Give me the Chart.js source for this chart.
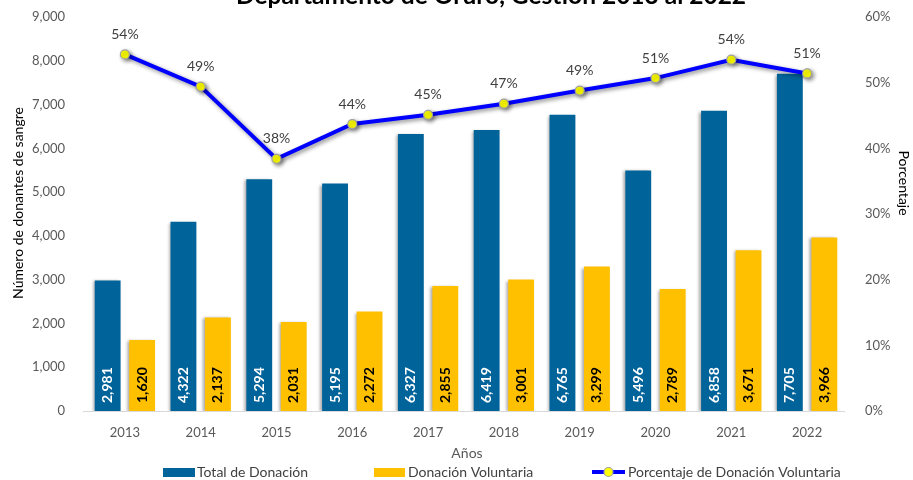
<!DOCTYPE html>
<html>
<head>
<meta charset="utf-8">
<script src="https://cdn.jsdelivr.net/npm/chart.js@4.4.1/dist/chart.umd.min.js"></script>
<style>
  html, body { margin: 0; padding: 0; background: #fff; }
  #wrap { width: 913px; height: 480px; }
</style>
</head>
<body>
<div id="wrap"><canvas id="donChart"></canvas></div>
<script>
let years = ['2013', '2014', '2015', '2016', '2017', '2018', '2019', '2020', '2021', '2022'];
let totalDonacion = [2981, 4322, 5294, 5195, 6327, 6419, 6765, 5496, 6858, 7705];
let donacionVoluntaria = [1620, 2137, 2031, 2272, 2855, 3001, 3299, 2789, 3671, 3966];
let porcentajeVoluntaria = [54.3, 49.4, 38.4, 43.7, 45.1, 46.8, 48.8, 50.7, 53.5, 51.4]; // %
let seriesNames = ['Total de Donación', 'Donación Voluntaria', 'Porcentaje de Donación Voluntaria'];
let titleText = 'Departamento de Oruro, Gestión 2013 al 2022';
let axisTitles = { y: 'Número de donantes de sangre', y1: 'Porcentaje', x: 'Años' };

const FONT = 'Lato';
const BLUE = '#00639a';
const YELLOW = '#ffc000';
const LINE = '#0000ff';
const TICK = '#595959';

// drop shadow under bars and line (excel style)
const shadowPlugin = {
  id: 'shadow',
  beforeDatasetDraw(chart, args) {
    const ctx = chart.ctx;
    ctx.save();
    if (args.meta.type === 'line') {
      ctx.shadowColor = 'rgba(0,0,0,0.45)';
      ctx.shadowBlur = 4;
      ctx.shadowOffsetX = 2;
      ctx.shadowOffsetY = 2;
    } else {
      ctx.shadowColor = 'rgba(0,0,0,0.35)';
      ctx.shadowBlur = 3;
      ctx.shadowOffsetX = -2;
      ctx.shadowOffsetY = 1;
    }
  },
  afterDatasetDraw(chart) {
    chart.ctx.restore();
  }
};

// value labels: rotated inside bars, percent above the line points
const labelPlugin = {
  id: 'labels',
  afterDatasetsDraw(chart) {
    const ctx = chart.ctx;
    chart.data.datasets.forEach((ds, di) => {
      const meta = chart.getDatasetMeta(di);
      meta.data.forEach((el, i) => {
        const v = ds.data[i];
        ctx.save();
        if (meta.type === 'bar') {
          ctx.translate(el.x, el.base - 8);
          ctx.rotate(-Math.PI / 2);
          ctx.font = 'bold 14px ' + FONT;
          ctx.fillStyle = di === 0 ? '#ffffff' : '#000000';
          ctx.textAlign = 'left';
          ctx.textBaseline = 'middle';
          ctx.fillText(v.toLocaleString('en-US'), 0, 0);
        } else {
          ctx.font = '14px ' + FONT;
          ctx.fillStyle = '#404040';
          ctx.textAlign = 'center';
          ctx.textBaseline = 'middle';
          ctx.fillText(Math.round(v) + '%', el.x, el.y - 20);
        }
        ctx.restore();
      });
    });
  }
};

// title (cut at the top edge), axis titles, baseline and legend like the original
const decoPlugin = {
  id: 'deco',
  beforeDatasetsDraw(chart) {
    const ctx = chart.ctx;
    const a = chart.chartArea;
    ctx.save();
    ctx.strokeStyle = '#d9d9d9';
    ctx.lineWidth = 1;
    ctx.beginPath();
    ctx.moveTo(a.left - 4, Math.round(a.bottom) + 0.5);
    ctx.lineTo(a.right, Math.round(a.bottom) + 0.5);
    ctx.stroke();
    ctx.restore();
  },
  afterDraw(chart) {
    const ctx = chart.ctx;
    ctx.save();
    ctx.font = 'bold 24.5px ' + FONT;
    ctx.fillStyle = '#000';
    ctx.textAlign = 'center';
    ctx.textBaseline = 'alphabetic';
    ctx.fillText(titleText, 491, 4);

    // axis titles
    ctx.font = '14px ' + FONT;
    ctx.textAlign = 'center';
    ctx.textBaseline = 'middle';
    ctx.save();
    ctx.translate(18, 203);
    ctx.rotate(-Math.PI / 2);
    ctx.fillText(axisTitles.y, 0, 0);
    ctx.restore();
    ctx.save();
    ctx.translate(904, 183);
    ctx.rotate(Math.PI / 2);
    ctx.fillText(axisTitles.y1, 0, 0);
    ctx.restore();
    ctx.fillStyle = TICK;
    ctx.fillText(axisTitles.x, 467, 453);

    const ly = 472;
    // bars
    ctx.fillStyle = BLUE;
    ctx.fillRect(163, ly - 4, 32, 9);
    ctx.fillStyle = YELLOW;
    ctx.fillRect(374, ly - 4, 31, 9);
    // line + marker
    ctx.strokeStyle = LINE;
    ctx.lineWidth = 4;
    ctx.beginPath();
    ctx.moveTo(592, ly);
    ctx.lineTo(625, ly);
    ctx.stroke();
    ctx.beginPath();
    ctx.arc(608.5, ly, 4.5, 0, Math.PI * 2);
    ctx.fillStyle = '#ffff00';
    ctx.fill();
    ctx.lineWidth = 1.2;
    ctx.strokeStyle = '#a0a0a0';
    ctx.stroke();
    ctx.font = '14px ' + FONT;
    ctx.textAlign = 'left';
    ctx.fillStyle = '#404040';
    ctx.fillText(seriesNames[0], 197, ly);
    ctx.fillText(seriesNames[1], 408, ly);
    ctx.fillText(seriesNames[2], 628, ly);
    ctx.restore();
  }
};

const ctx = document.getElementById('donChart');
new Chart(ctx, {
  type: 'bar',
  data: {
    labels: years,
    datasets: [
      {
        label: seriesNames[0],
        data: totalDonacion,
        backgroundColor: BLUE,
        yAxisID: 'y',
        order: 2,
        categoryPercentage: 0.91,
        barPercentage: 0.75
      },
      {
        label: seriesNames[1],
        data: donacionVoluntaria,
        backgroundColor: YELLOW,
        yAxisID: 'y',
        order: 2,
        categoryPercentage: 0.91,
        barPercentage: 0.75
      },
      {
        type: 'line',
        label: seriesNames[2],
        data: porcentajeVoluntaria,
        yAxisID: 'y1',
        order: 0,
        borderColor: LINE,
        borderWidth: 4,
        pointRadius: 4.5,
        pointBackgroundColor: '#ffff00',
        pointBorderColor: '#a0a0a0',
        pointBorderWidth: 1.2,
        tension: 0
      }
    ]
  },
  options: {
    responsive: true,
    maintainAspectRatio: false,
    animation: false,
    layout: { padding: { top: 17, bottom: 18, left: 0, right: 0 } },
    plugins: {
      legend: { display: false },
      tooltip: { enabled: false }
    },
    scales: {
      x: {
        grid: { display: false },
        border: { display: false },
        ticks: { color: TICK, font: { family: FONT, size: 13 }, padding: 6 },
        afterFit(s) { s.height = 51; }
      },
      y: {
        position: 'left',
        min: 0,
        max: 9000,
        grid: { display: false },
        border: { display: false },
        ticks: {
          stepSize: 1000,
          color: TICK,
          font: { family: FONT, size: 13 },
          padding: 14,
          callback: v => v.toLocaleString('en-US')
        },
        afterFit(s) { s.width = 87; s.paddingTop = 0; s.paddingBottom = 0; }
      },
      y1: {
        position: 'right',
        min: 0,
        max: 60,
        grid: { display: false },
        border: { display: false },
        ticks: {
          stepSize: 10,
          color: TICK,
          font: { family: FONT, size: 13 },
          padding: 12,
          callback: v => v + '%'
        },
        afterFit(s) { s.width = 68; s.paddingTop = 0; s.paddingBottom = 0; }
      }
    }
  },
  plugins: [shadowPlugin, labelPlugin, decoPlugin]
});
</script>
</body>
</html>
